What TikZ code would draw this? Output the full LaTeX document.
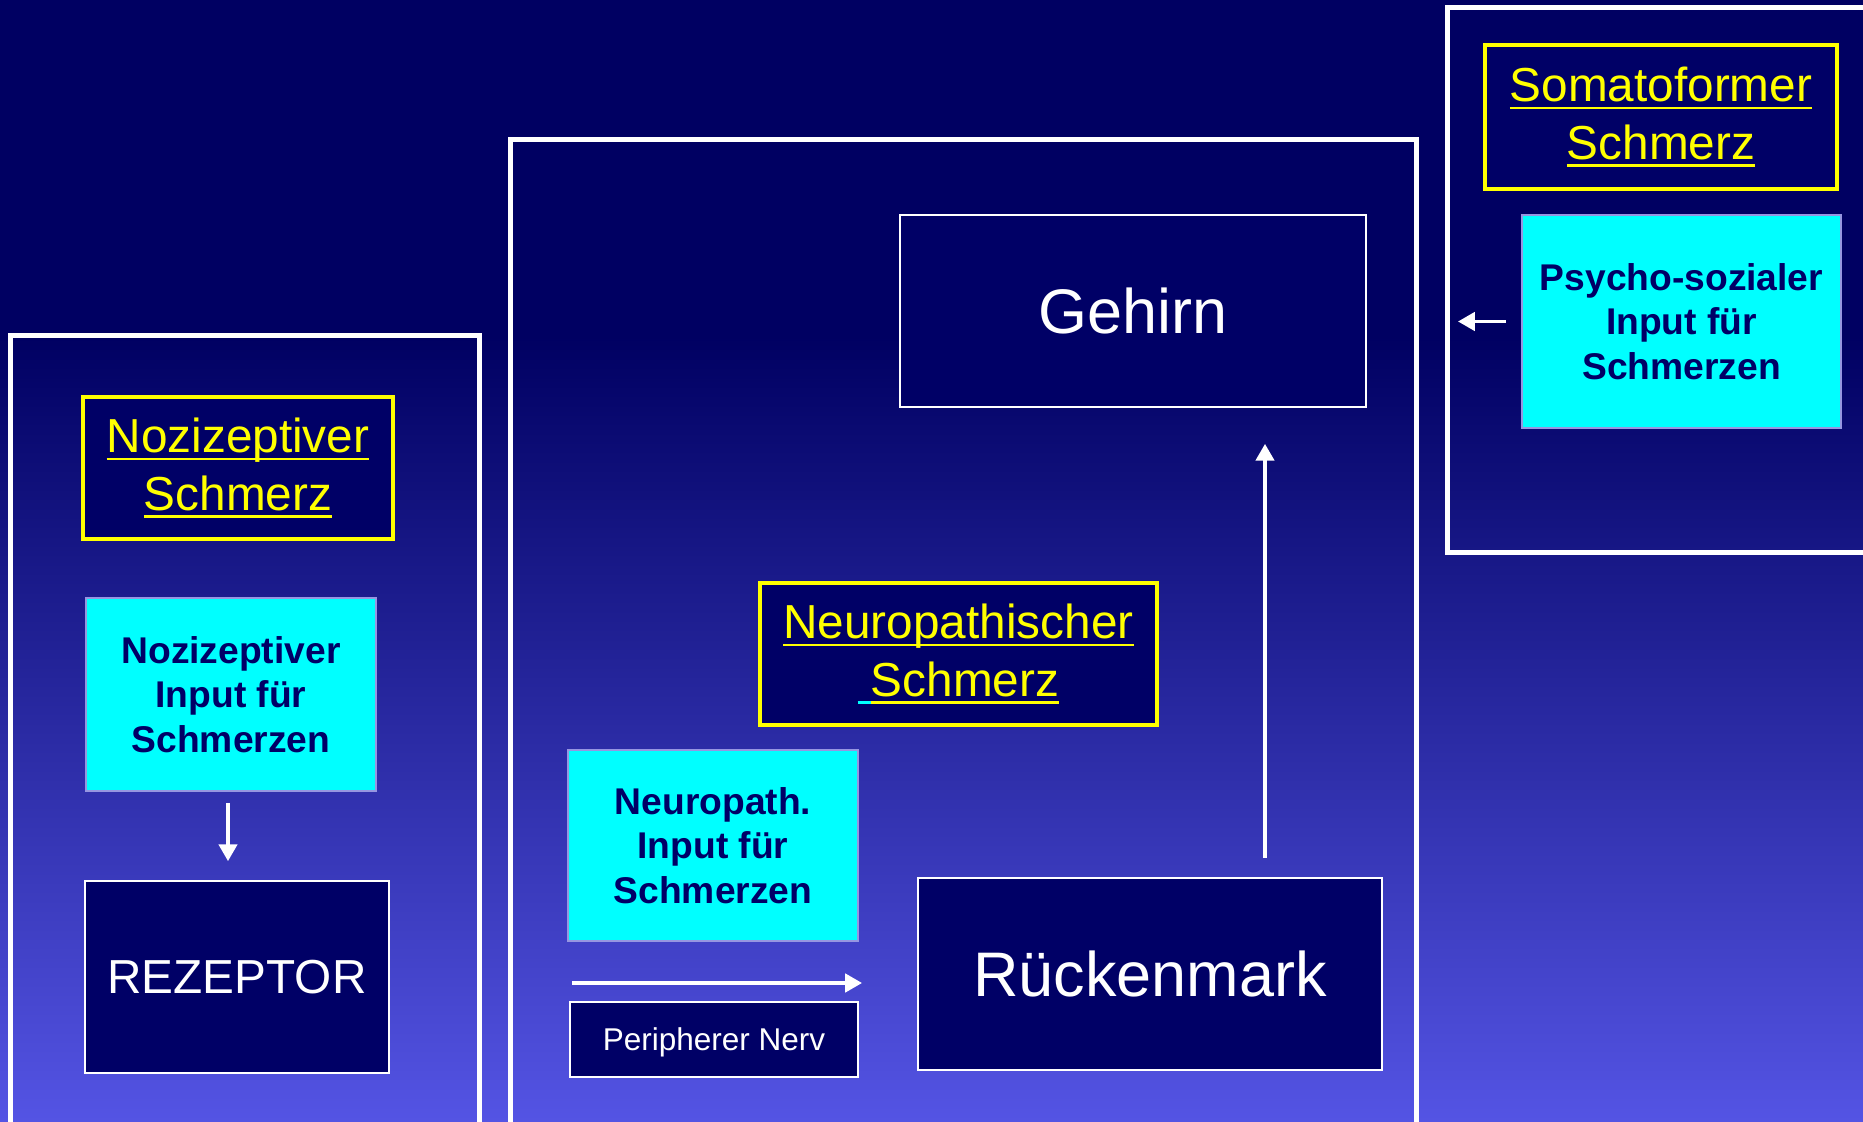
\documentclass[tikz,border=0pt]{standalone}
\usepackage{fontspec}
\setmainfont{Liberation Sans}
\usetikzlibrary{arrows.meta}
\definecolor{navy}{RGB}{0,0,102}
\definecolor{bgtop}{RGB}{0,0,98}
\definecolor{bgbot}{RGB}{84,84,228}
\definecolor{ylw}{RGB}{255,255,0}
\definecolor{cyn}{RGB}{0,255,255}
\definecolor{lav}{RGB}{150,150,225}
\newsavebox\ulbox
\newcommand\yul[1]{\sbox\ulbox{#1}\rlap{\rule[-0.16em]{\wd\ulbox}{0.056em}}\usebox\ulbox}
\newcommand\yfont{\fontsize{13.57}{16.4}\selectfont}
\newcommand\cfont{\fontsize{10.58}{12.7}\selectfont\bfseries}
\newcommand\bigfont{\fontsize{17.9}{21}\selectfont}
\begin{document}
\begin{tikzpicture}[x=0.01cm,y=-0.01cm,
 outerbox/.style={draw=white,line width=1.42pt},
 ybox/.style={draw=ylw,fill=navy,line width=1.1pt,text=ylw,align=center,font=\yfont,inner sep=0pt},
 cbox/.style={draw=lav,fill=cyn,line width=0.7pt,text=navy,align=center,font=\cfont,inner sep=0pt},
 dbox/.style={draw=white,fill=navy,line width=0.45pt,text=white,align=center,inner sep=0pt},
 arr/.style={draw=white,line width=1.05pt,-{Triangle[length=4.8pt,width=5.2pt]}}]
\useasboundingbox (0,0) rectangle (1863,1122);
\clip (0,0) rectangle (1863,1122);
% background
\fill[bgtop] (0,0) rectangle (1863,340);
\shade[top color=bgtop,bottom color=bgbot] (0,336) rectangle (1863,1122);
% outer frames
\draw[outerbox] (10.5,1130) -- (10.5,336) -- (479.5,336) -- (479.5,1130);
\draw[outerbox] (510,1130) -- (510,140) -- (1416,140) -- (1416,1130);
\draw[outerbox] (1880,8) -- (1447,8) -- (1447,552.5) -- (1880,552.5);
% dark boxes
\node[dbox,minimum width=4.66cm,minimum height=1.92cm,font=\bigfont] (gehirn) at (1133,311) {Gehirn};
\node[dbox,minimum width=4.64cm,minimum height=1.92cm,font=\bigfont] (rm) at (1150,974) {Rückenmark};
\node[dbox,minimum width=3.04cm,minimum height=1.92cm,font=\yfont] (rez) at (237,977) {REZEPTOR};
\node[dbox,minimum width=2.88cm,minimum height=0.75cm,text depth=0pt,font=\fontsize{8.96}{10.8}\selectfont] (pn) at (714,1039.5) {Peripherer Nerv};
% yellow title boxes
\node[ybox,minimum width=3.10cm,minimum height=1.42cm] (noz) at (238,468) {\yul{Nozizeptiver}\\\yul{Schmerz}};
\node[ybox,minimum width=3.97cm,minimum height=1.42cm] (neu) at (958.5,654) {\yul{Neuropathischer}\\{\color{cyn}\yul{\ }}\yul{Schmerz}};
\node[ybox,minimum width=3.52cm,minimum height=1.44cm] (som) at (1661,117) {\yul{Somatoformer}\\\yul{Schmerz}};
% cyan input boxes
\node[cbox,minimum width=2.90cm,minimum height=1.93cm] (nozin) at (231,694.5) {Nozizeptiver\\Input für\\Schmerzen};
\node[cbox,minimum width=2.90cm,minimum height=1.91cm] (neuin) at (713,845.5) {Neuropath.\\Input für\\Schmerzen};
\node[cbox,minimum width=3.19cm,minimum height=2.13cm] (psy) at (1681.5,321.5) {Psycho-sozialer\\Input für\\Schmerzen};
% arrows
\coordinate (d1) at (228,803);
\draw[arr,shorten >=0.19cm] (d1) -- (d1 |- rez.north);
\coordinate (u1) at (1265,858);
\draw[arr,shorten >=0.36cm] (u1) -- (u1 |- gehirn.south);
\coordinate (r1) at (572,983);
\draw[arr,shorten >=0.55cm] (r1) -- (r1 -| rm.west);
\coordinate (l1) at (1447,321.5);
\draw[arr,shorten <=0.15cm,shorten >=0.11cm] (psy.west) -- (l1);
\end{tikzpicture}
\end{document}
